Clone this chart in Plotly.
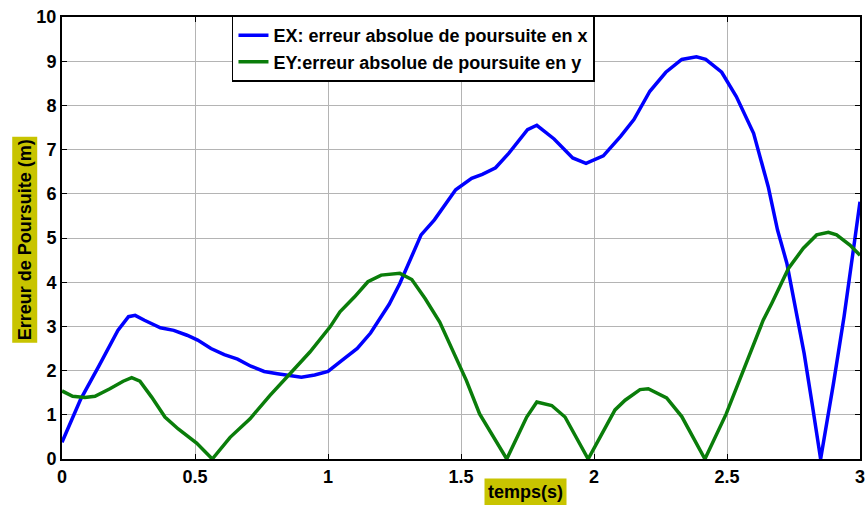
import plotly.graph_objects as go

# Tracking error along x
t_ex = [0, 0.07, 0.14, 0.21, 0.25, 0.275, 0.31, 0.37, 0.42, 0.47, 0.51, 0.56, 0.61, 0.66,
        0.71, 0.76, 0.81, 0.86, 0.9, 0.95, 1.0, 1.05, 1.11, 1.16, 1.23, 1.27, 1.31, 1.35,
        1.4, 1.44, 1.48, 1.54, 1.58, 1.63, 1.68, 1.75, 1.785, 1.85, 1.92, 1.97, 2.035,
        2.1, 2.15, 2.21, 2.27, 2.33, 2.385, 2.42, 2.48, 2.535, 2.6, 2.655, 2.69, 2.725,
        2.755, 2.79, 2.82, 2.852, 2.9, 2.94, 2.975, 3.0]
ex = [0.38, 1.35, 2.12, 2.91, 3.22, 3.25, 3.14, 2.97, 2.91, 2.80, 2.69, 2.50, 2.36, 2.26,
      2.10, 1.98, 1.93, 1.88, 1.85, 1.9, 1.98, 2.22, 2.5, 2.85, 3.5, 3.97, 4.54, 5.07,
      5.41, 5.75, 6.09, 6.35, 6.44, 6.59, 6.92, 7.45, 7.55, 7.24, 6.81, 6.69, 6.86,
      7.30, 7.68, 8.32, 8.75, 9.04, 9.10, 9.04, 8.75, 8.2, 7.37, 6.16, 5.18, 4.43,
      3.44, 2.39, 1.25, 0.0, 1.7, 3.22, 4.73, 5.82]

# Tracking error along y
t_ey = [0, 0.04, 0.086, 0.124, 0.18, 0.23, 0.262, 0.293, 0.337, 0.387, 0.437, 0.506, 0.565,
        0.632, 0.707, 0.782, 0.857, 0.932, 1.008, 1.045, 1.10, 1.15, 1.20, 1.27, 1.315,
        1.365, 1.42, 1.47, 1.52, 1.57, 1.62, 1.672, 1.747, 1.785, 1.841, 1.891, 1.978,
        2.035, 2.079, 2.117, 2.173, 2.204, 2.273, 2.33, 2.417, 2.497, 2.558, 2.636, 2.668,
        2.731, 2.787, 2.837, 2.881, 2.912, 2.962, 3.0]
ey = [1.54, 1.42, 1.39, 1.42, 1.59, 1.76, 1.84, 1.76, 1.40, 0.95, 0.68, 0.36, 0.0,
      0.49, 0.91, 1.44, 1.93, 2.42, 2.99, 3.33, 3.67, 4.01, 4.16, 4.20, 4.06,
      3.63, 3.10, 2.46, 1.78, 1.02, 0.53, 0.0, 0.95, 1.29, 1.21, 0.95, 0.0,
      0.65, 1.11, 1.33, 1.57, 1.59, 1.38, 0.96, 0.0, 1.02, 1.95, 3.14, 3.52,
      4.31, 4.77, 5.07, 5.13, 5.07, 4.84, 4.61]

x_ticks = [0, 0.5, 1, 1.5, 2, 2.5, 3]
x_tick_labels = ["0", "0.5", "1", "1.5", "2", "2.5", "3"]
y_ticks = list(range(0, 11))

names = ["EX: erreur absolue de poursuite en x",
         "EY:erreur absolue de poursuite en y"]
x_title = "temps(s)"
y_title = "Erreur de Poursuite (m)"

FONT = "Liberation Sans, Arial, sans-serif"
LABEL_BG = "#c8c400"

fig = go.Figure()
fig.add_trace(go.Scatter(x=t_ex, y=ex, mode="lines", name=names[0],
                         line=dict(color="#0000ff", width=3.5)))
fig.add_trace(go.Scatter(x=t_ey, y=ey, mode="lines", name=names[1],
                         line=dict(color="#0a7d0a", width=3.5)))

axis_common = dict(
    showline=True, linecolor="black", linewidth=2, mirror="ticks",
    ticks="inside", ticklen=5, tickcolor="black", tickwidth=1,
    showgrid=True, gridcolor="#b4b4b4", gridwidth=1, zeroline=False,
    automargin=False,
    tickfont=dict(family=FONT, size=18, color="black", weight="bold"),
)

fig.update_xaxes(range=[0, 3], tickvals=x_ticks, ticktext=x_tick_labels, **axis_common)
fig.update_yaxes(range=[0, 10], tickvals=y_ticks, ticklabelstandoff=0, **axis_common)

fig.add_annotation(text=x_title, xref="paper", yref="paper", x=0.581, y=-0.074,
                   xanchor="center", yanchor="middle",
                   showarrow=False, bgcolor=LABEL_BG, borderpad=3,
                   font=dict(family=FONT, size=18, color="black", weight="bold"))
fig.add_annotation(text=y_title, xref="paper", yref="paper", x=-0.047, y=0.496,
                   xanchor="center", yanchor="middle",
                   textangle=-90, showarrow=False, bgcolor=LABEL_BG, borderpad=2,
                   font=dict(family=FONT, size=18, color="black", weight="bold"))

fig.update_layout(
    width=867, height=505,
    margin=dict(l=62, r=7, t=17, b=46),
    paper_bgcolor="white", plot_bgcolor="white",
    showlegend=True,
    legend=dict(x=0.213, y=1.003, xanchor="left", yanchor="top",
                bgcolor="white", bordercolor="black", borderwidth=1.5,
                font=dict(family=FONT, size=18, color="black", weight="bold"),
                tracegroupgap=0, itemwidth=30),
)

fig.write_html("out.html")
